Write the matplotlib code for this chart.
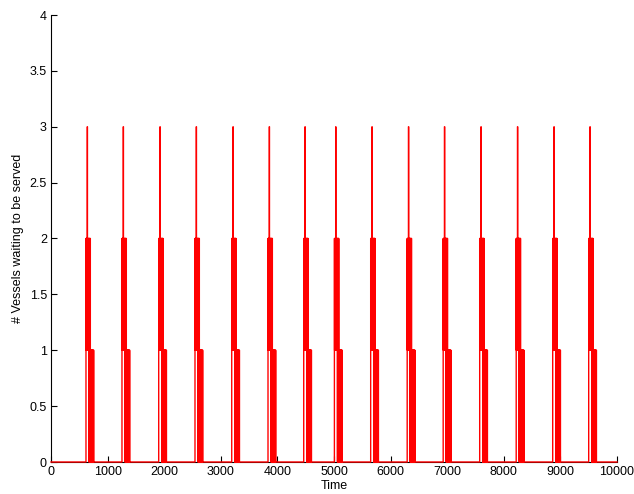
import numpy as np
import matplotlib
matplotlib.use("Agg")
import matplotlib.pyplot as plt

plt.rcParams['font.family'] = ['Liberation Sans', 'DejaVu Sans']

# Time of the peak (3 vessels) in each busy period
peak_times = [641, 1277, 1926, 2567, 3216, 3857, 4488, 5030, 5671,
              6316, 6952, 7597, 8242, 8887, 9523]

# Queue-length events inside one busy period, relative to its peak time
burst_offsets = [-23, -20, -17, -14, -11, -8, -5, -2,
                 0, 3,
                 6, 9, 12, 15, 18, 21, 24, 27,
                 30, 33, 36, 39, 42, 45, 48, 51,
                 54, 58, 62, 66, 70, 74, 78, 82, 86, 90, 94, 98, 102, 106, 110, 114, 118]
burst_values = [2, 1, 2, 1, 2, 1, 2, 1,
                3, 2,
                1, 2, 1, 2, 1, 2, 1, 2,
                0, 2, 0, 2, 0, 2, 0, 2,
                1, 0, 1, 0, 1, 0, 1, 0, 1, 0, 1, 0, 1, 0, 1, 0, 0]

t_start, t_end = 0, 10000

times = [t_start]
queue = [0]
for T in peak_times:
    times.extend(T + o for o in burst_offsets)
    queue.extend(burst_values)
times.append(t_end)
queue.append(0)

fig = plt.figure(figsize=(6.34, 4.94), dpi=100)
ax = fig.add_axes([51 / 634, 32 / 494, 566 / 634, 447 / 494])

ax.plot(times, queue, color='#ff0000', linewidth=1.0,
        drawstyle='steps-post', clip_on=False, zorder=3)

ax.set_xlim(0, 10000)
ax.set_ylim(0, 4)
ax.set_xticks(np.arange(0, 10001, 1000))
ax.set_yticks(np.arange(0, 4.01, 0.5))
ax.set_yticklabels(['0', '0.5', '1', '1.5', '2', '2.5', '3', '3.5', '4'])

for side in ('top', 'right'):
    ax.spines[side].set_visible(False)
for side in ('left', 'bottom'):
    ax.spines[side].set_linewidth(0.8)

ax.tick_params(direction='in', length=4, width=0.8, labelsize=9, pad=3)

ax.set_xlabel('Time', fontsize=9, labelpad=1)
ax.set_ylabel('# Vessels waiting to be served', fontsize=9, labelpad=4)

fig.savefig('out.png', dpi=100)
